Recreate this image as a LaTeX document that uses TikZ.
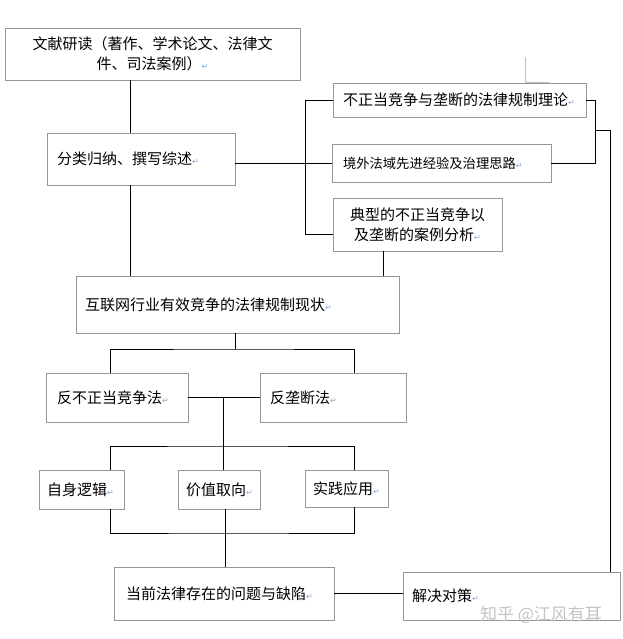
\documentclass[tikz,border=0pt]{standalone}
\usepackage{fontspec}
\newfontfamily\cjk{Noto Sans CJK SC}
\newfontfamily\retfont{DejaVu Sans}
\usetikzlibrary{calc}
\definecolor{boxgray}{RGB}{150,150,150}
\definecolor{retblue}{RGB}{130,170,210}
\definecolor{wmgray}{RGB}{195,195,195}
\newcommand{\retmk}{{\retfont\fontsize{8}{8}\selectfont\textcolor{retblue}{↵}}}

\begin{document}
\begin{tikzpicture}[
    x=1pt, y=-1pt,
    box/.style={
        draw=boxgray, line width=0.6pt,
        inner xsep=10pt, inner ysep=0pt,
        font=\cjk\fontsize{15}{20}\selectfont,
        align=left
    },
    link/.style={draw=black, line width=0.8pt}
  ]
  \useasboundingbox (0,0) rectangle (622,639);

  \node[box, align=center, text width=275pt, minimum height=52pt] (read) at (152.5,54) {文献研读（著作、学术论文、法律文\\件、司法案例）\retmk};
  \node[box, text width=168pt, minimum height=52pt] (sort) at (141,159) {分类归纳、撰写综述\retmk};

  \node[box, text width=233pt, minimum height=34pt] (theory) at (459.5,100) {不正当竞争与垄断的法律规制理论\retmk};
  \node[box, inner xsep=11pt, text width=197pt, minimum height=38pt,
        font=\cjk\fontsize{13.3}{16}\selectfont] (abroad) at (441.5,163) {境外法域先进经验及治理思路\retmk};
  \node[box, align=center, text width=149pt, minimum height=53pt] (cases) at (417.5,224.5) {典型的不正当竞争以\\及垄断的案例分析\retmk};

  \node[box, inner xsep=9pt, text width=305pt, minimum height=57pt] (status) at (237.5,304.5) {互联网行业有效竞争的法律规制现状\retmk};

  \node[box, inner xsep=11pt, text width=120pt, minimum height=49pt] (unfair) at (117,397.5) {反不正当竞争法\retmk};
  \node[box, text width=126pt, minimum height=49pt] (antitrust) at (333,397.5) {反垄断法\retmk};

  \node[box, inner xsep=8pt, text width=69pt, minimum height=39pt] (logic) at (81.5,489.5) {自身逻辑\retmk};
  \node[box, inner xsep=8pt, text width=66pt, minimum height=39pt] (value) at (219,489.5) {价值取向\retmk};
  \node[box, inner xsep=8pt, text width=67pt, minimum height=37pt] (practice) at (346.5,488.5) {实践应用\retmk};

  \node[box, inner xsep=12pt, text width=196pt, minimum height=53pt] (problem) at (224,593.5) {当前法律存在的问题与缺陷\retmk};
  \node[box, inner xsep=9pt, text width=199pt, minimum height=48pt] (solution) at (511.5,596) {解决对策\retmk};

  \coordinate (trunk) at (130,0);
  \coordinate (lbrk) at (305,234);
  \coordinate (rbrk) at (595,163);
  \coordinate (rjoin) at (595,130);
  \coordinate (rtrunk) at (610,0);
  \coordinate (drop) at (383,0);
  \coordinate (split) at (235,349);
  \coordinate (lcol) at (110,0);
  \coordinate (rcol) at (354,0);
  \coordinate (pair) at (223,397.5);
  \coordinate (fork) at (223,446);
  \coordinate (merge) at (225,533);

  \draw[link] (read.south -| trunk) -- (sort.north -| trunk);
  \draw[link] (sort.south -| trunk) -- (status.north -| trunk);
  \draw[link] (sort.east |- abroad.west) -- (abroad.west);
  \draw[link] (theory.west) -| (lbrk) -- (lbrk -| cases.west);
  \draw[link] (theory.east) -| (rbrk) -- (abroad.east);
  \draw[link] (rjoin) -| (rtrunk |- solution.north);
  \draw[link] (cases.south -| drop) -- (status.north -| drop);

  \draw[link] (status.south -| split) -- (split);
  \draw[link] (unfair.north -| lcol) |- (split) -| (antitrust.north -| rcol);
  \draw[link] (unfair.east) -- (antitrust.west);
  \draw[link] (pair) -- (fork);
  \draw[link] (logic.north -| lcol) |- (fork) -| (practice.north -| rcol);
  \draw[link] (value.north -| fork) -- (fork);
  \draw[link] (logic.south -| lcol) |- (merge) -| (practice.south -| rcol);
  \draw[link] (value.south -| merge) -- (problem.north -| merge);
  \draw[link] (problem.east) -- (problem.east -| solution.west);

  \draw[boxgray!60, line width=0.6pt] (525,57) -- (525,82) -- (549,82);

  \node[font=\cjk\fontsize{17}{17}\selectfont, text=wmgray] (wm) at (541,614.5) {知乎 @江风有耳};

\end{tikzpicture}
\end{document}
